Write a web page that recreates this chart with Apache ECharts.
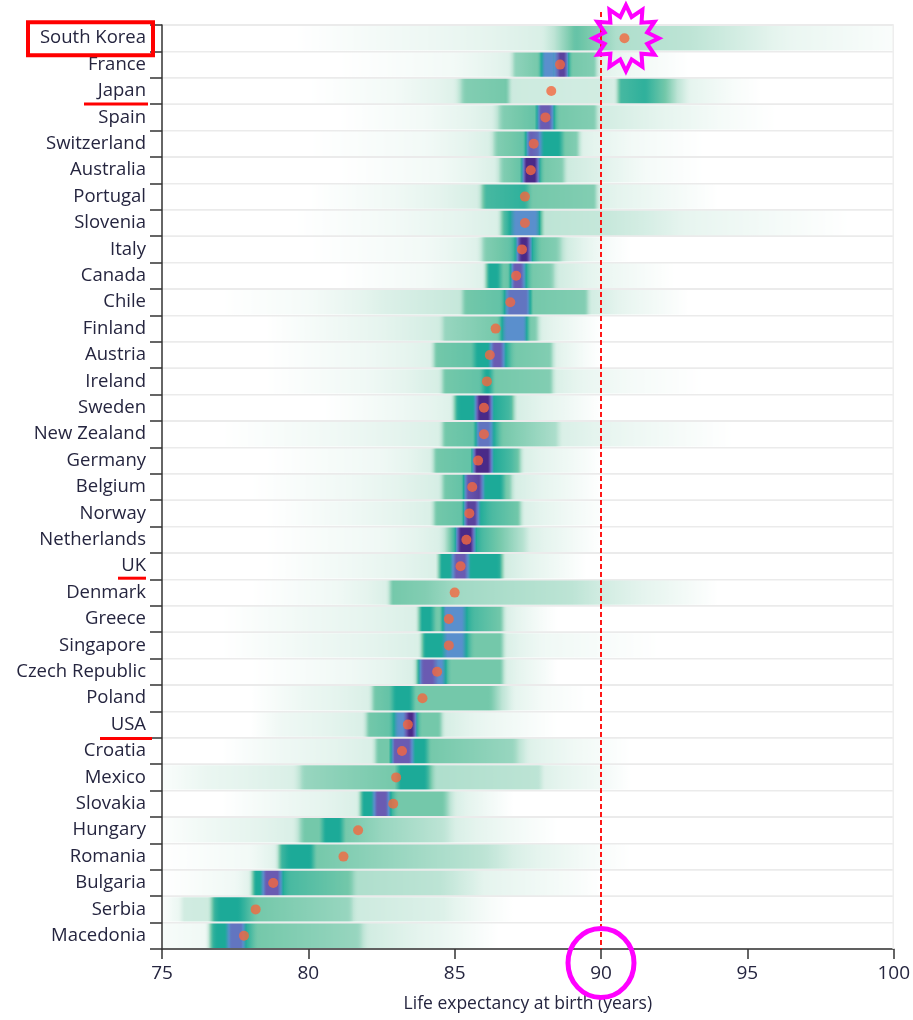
<!DOCTYPE html>
<html><head><meta charset="utf-8">
<script src="https://cdn.jsdelivr.net/npm/echarts@6/dist/echarts.min.js"></script>
<style>html,body{margin:0;padding:0;background:#fff}#c{width:913px;height:1020px}</style>
</head><body><div id="c"></div><script>
// ---------------- data ----------------
const countries = ['South Korea','France','Japan','Spain','Switzerland','Australia','Portugal','Slovenia','Italy','Canada','Chile','Finland','Austria','Ireland','Sweden','New Zealand','Germany','Belgium','Norway','Netherlands','UK','Denmark','Greece','Singapore','Czech Republic','Poland','USA','Croatia','Mexico','Slovakia','Hungary','Romania','Bulgaria','Serbia','Macedonia'];
const medians = [90.8,88.6,88.3,88.1,87.7,87.6,87.4,87.4,87.3,87.1,86.9,86.4,86.2,86.1,86.0,86.0,85.8,85.6,85.5,85.4,85.2,85.0,84.8,84.8,84.4,83.9,83.4,83.2,83.0,82.9,81.7,81.2,78.8,78.2,77.8];
// density strips: [life expectancy, density level 0..7] knots, one list per country
const strips = [
 [[79.5,0],[82,0.4],[85,0.8],[88,1.3],[88.5,2.2],[89.1,3.2],[89.8,2.8],[90.5,2.2],[93,2],[94.5,1.5],[96.5,0.8],[100,0.2]],
 [[81,0],[85,0.5],[86.9,1.2],[87.0,2.6],[87.9,3],[88.0,5],[88.4,5],[88.45,4],[88.5,6.5],[88.8,6.5],[88.85,4],[88.95,3],[89.8,2.8],[89.9,1.2],[91,0.6],[93,0]],
 [[80,0],[83,0.5],[85.0,1.2],[85.3,2.8],[86.8,3],[86.9,1.6],[89.9,1.5],[90.5,1.3],[90.6,3.5],[91.5,3.8],[92.2,3],[93,1],[94.5,0.3],[95.5,0]],
 [[81,0],[84,0.5],[86.3,1.3],[86.6,2.8],[87.8,3.2],[87.85,6],[88.3,6],[88.35,4],[88.5,3],[89.8,2.8],[89.9,1.5],[92,1],[94,0.4],[96,0]],
 [[80,0],[84,0.5],[86.2,1.3],[86.4,2.8],[87.4,3.2],[87.5,6],[87.9,5.5],[87.95,4],[88.6,4],[88.7,3],[89.2,2.8],[89.3,1.2],[91,0.5],[93.5,0]],
 [[81,0],[84.5,0.5],[86.4,1.3],[86.6,2.8],[87.3,3.2],[87.35,7],[87.8,7],[87.85,4],[88,3],[88.7,2.8],[88.8,1.6],[89.9,1.2],[91.5,0.4],[93.5,0]],
 [[80,0],[83,0.6],[85.8,1.4],[86.0,3.5],[87.4,3.8],[87.6,3],[89.8,2.8],[89.9,1.2],[92,0.6],[94,0]],
 [[79.5,0],[83,0.5],[86.5,1.3],[86.6,3.2],[86.9,4],[87.0,5],[87.8,5],[87.9,4],[88.0,2],[90,1.8],[91.5,1.4],[93,0.9],[96,0.4],[98.5,0]],
 [[80,0],[84,0.5],[85.8,1.2],[86.0,2.8],[86.9,3.2],[87.1,4],[87.2,7],[87.5,7],[87.6,4],[87.9,3],[88.5,2.8],[88.8,1.5],[90.3,0.3],[91,0]],
 [[81,0],[84,0.5],[86.0,1.2],[86.1,4],[86.5,4],[86.6,3],[86.9,3.2],[86.95,6],[87.3,6],[87.4,4],[87.6,3],[88.3,2.8],[88.5,1.5],[90,0.8],[92.5,0]],
 [[77,0],[80,0.4],[82.5,1.2],[85.2,1.8],[85.3,3],[86.6,3.2],[86.7,4],[86.8,5.5],[87.5,5.5],[87.6,3],[89.5,2.8],[89.6,1.5],[91,0.8],[93,0]],
 [[78.5,0],[81,0.6],[84.5,1.5],[84.6,2.5],[86.5,3],[86.6,4],[86.7,5],[87.4,5],[87.5,3],[87.8,2.8],[87.9,1.3],[89.5,0.3],[90,0]],
 [[78.5,0],[82,0.6],[84.2,1.2],[84.3,3],[85.6,3.2],[85.7,4],[86.2,4],[86.25,6],[86.6,6],[86.7,4],[87,3],[88.3,2.8],[88.4,1.2],[89.5,0.3],[90,0]],
 [[78.5,0],[82,0.6],[84.5,1.4],[84.6,3],[85.9,3.2],[86.0,4],[86.2,4],[86.3,3],[88.3,2.8],[88.4,1.3],[89.5,0.8],[91,0.4],[93.5,0]],
 [[80.5,0],[83,0.6],[84.9,1.2],[85.0,3.5],[85.1,4],[85.7,4],[85.75,7],[86.2,7],[86.25,4],[86.9,3.5],[87.0,3],[87.05,1.4],[88.5,0.8],[90,0]],
 [[77,0],[81,0.6],[84.5,1.3],[84.6,3],[85.7,3.2],[85.75,5.5],[86.2,5.5],[86.3,4],[86.6,3],[88.5,2.2],[88.6,1.3],[91,0.7],[94.5,0]],
 [[78.5,0],[82.5,0.6],[84.2,1.3],[84.3,3],[85.6,3.2],[85.65,7],[86.2,7],[86.25,4],[86.9,3.5],[87.2,3],[87.3,1.3],[89.5,0.3],[90,0]],
 [[78,0],[81.5,0.6],[84.5,1.4],[84.6,3],[85.3,3.2],[85.35,6],[85.9,6.5],[85.95,4],[86.6,4],[86.7,3],[86.9,2.8],[87,1.4],[89,0.5],[90,0]],
 [[78.5,0],[81.5,0.6],[84.2,1.3],[84.3,3],[85.3,3.2],[85.35,6.5],[85.75,6.5],[85.8,4],[86.2,3.5],[87.2,3],[87.3,1.3],[89,0.5],[90.3,0]],
 [[78.5,0],[82.5,0.6],[84.5,1.3],[84.8,2.8],[85.05,4],[85.1,7],[85.6,7],[85.65,4],[85.9,3.5],[86.5,3],[87.4,2],[87.5,1.3],[89,0.5],[90,0]],
 [[78.5,0],[81.5,0.6],[84.4,1.3],[84.45,4],[84.9,4],[84.95,6],[85.4,6],[85.45,4],[86.5,4],[86.6,3.5],[86.65,1.5],[88,0.8],[89.5,0]],
 [[78,0],[81,0.6],[82.7,1.3],[82.8,3],[84,2.8],[85,2.4],[89,2],[90,1.5],[92,0.8],[94,0]],
 [[77,0],[80,0.6],[83.7,1.3],[83.8,4],[84.2,4],[84.3,3],[84.55,3],[84.6,5],[85.3,5],[85.35,4],[85.6,3.5],[86.6,3],[86.7,1.3],[88,0.3],[88.5,0]],
 [[77,0],[80,0.6],[83.8,1.3],[83.9,4],[84.6,4],[84.65,5],[85.3,5],[85.35,4],[85.6,3],[86.6,3],[86.7,1.3],[88,0.6],[92,0]],
 [[78,0],[81.5,0.6],[83.6,1.3],[83.7,3],[83.85,6],[84.3,6],[84.35,5],[84.6,5],[84.65,4],[84.8,3],[86.6,3],[86.7,1.3],[88,0.4],[88.5,0]],
 [[78,0],[79.8,0.7],[82.1,1.3],[82.2,3],[82.8,3.2],[82.9,4],[83.5,4],[83.6,3],[86.2,3],[87,1],[88,0.4],[89.5,0]],
 [[78,0],[79,0.6],[81.9,1.3],[82.0,3],[82.8,3.2],[82.9,4],[83.0,5],[83.3,5],[83.35,7],[83.6,7],[83.65,4],[83.8,3],[84.5,3],[84.6,1.4],[86,0.8],[88.5,0]],
 [[77,0],[79,0.6],[82.2,1.3],[82.3,3],[82.8,3],[82.85,6],[83.5,6],[83.55,4],[84,4],[84.1,3],[87,2.5],[87.5,1.2],[89,0.6],[91,0]],
 [[75,0.2],[76.5,0.8],[79.5,1.3],[79.8,2.5],[83,3],[83.05,4],[84,4],[84.3,2.2],[87.9,2],[88,1.2],[90,0.5],[91,0]],
 [[77,0],[79,0.6],[81.7,1.3],[81.8,4],[82.2,4],[82.25,6],[82.7,6],[82.75,4],[83,3],[84.6,3],[85,1.3],[86.5,0.3],[87,0]],
 [[75,0.1],[76.5,0.6],[79.5,1.3],[79.8,3],[80.4,3],[80.5,4],[81.1,4],[81.2,3],[82.5,2.5],[84.6,2],[85,1.3],[87,0.5],[88.5,0]],
 [[75,0],[78,0.5],[78.9,1.2],[79.0,3.5],[79.3,4],[80.1,4],[80.2,3],[83,2.5],[86,2],[87,1.3],[89.5,0.4],[91,0]],
 [[75,0],[77.5,0.6],[78.0,1.2],[78.1,4],[78.4,4],[78.45,6],[79.0,6],[79.05,4],[79.3,3.5],[81.4,3],[81.6,2.2],[84.5,2],[86,1],[89,0.3],[90,0]],
 [[75,0.2],[75.6,0.8],[75.65,1.5],[76.6,1.6],[76.7,3.5],[76.9,4],[77.6,4],[78.2,3],[81.4,2.5],[81.6,1.6],[84.6,1.2],[86.2,0.3],[87,0]],
 [[75,0.3],[76.5,0.6],[76.65,3.5],[76.8,4],[77.2,4],[77.25,5.5],[77.75,5.5],[77.8,4],[78.2,3],[81.7,2.5],[82,1.5],[84.5,0.8],[86.5,0]]
];
const xMin = 75, xMax = 100, xStep = 5;
const refLine = 90;
const boxed = 'South Korea';
const underlined = ['Japan','UK','USA'];

// ---------------- helpers ----------------
const palette = ['#ffffff','#e5f4ee','#bde4d5','#74c8aa','#1caa98','#5a8fcd','#6a5bb2','#4a2a88'];
const rgb = palette.map(h => [1,3,5].map(i => parseInt(h.substr(i,2),16)));
function levelColor(l){
  l = Math.max(0, Math.min(palette.length-1, l));
  const a = Math.floor(l), b = Math.min(a+1, palette.length-1), t = l - a;
  const c = rgb[a].map((v,k) => Math.round(v + (rgb[b][k]-v)*t));
  return 'rgb(' + c.join(',') + ')';
}
function levelAt(kn, v){
  if (v <= kn[0][0]) return kn[0][1];
  for (let i = 1; i < kn.length; i++) {
    if (v <= kn[i][0]) {
      const t = (v - kn[i-1][0]) / (kn[i][0] - kn[i-1][0]);
      return kn[i-1][1] + (kn[i][1] - kn[i-1][1]) * t;
    }
  }
  return kn[kn.length-1][1];
}
function smoothLevel(kn, v){
  let s = 0, n = 0;
  for (let d = -0.08; d <= 0.0801; d += 0.04) { s += levelAt(kn, v + d); n++; }
  return s / n;
}
const gradStops = strips.map(kn => {
  const s = [];
  for (let v = xMin; v <= xMax + 1e-9; v += 0.04) {
    s.push({offset: Math.min(1,(v - xMin)/(xMax - xMin)), color: levelColor(smoothLevel(kn, v))});
  }
  return s;
});

const FONT = '"Open Sans", "Noto Sans", sans-serif';
const TXT = '#25253f';

const chart = echarts.init(document.getElementById('c'), null, {renderer:'canvas'});
chart.setOption({
  animation: false,
  backgroundColor: '#ffffff',
  textStyle: {fontFamily: FONT},
  grid: {left: 162, right: 18, top: 25, bottom: 71},
  xAxis: {
    type: 'value', min: xMin, max: xMax, interval: xStep,
    name: 'Life expectancy at birth (years)', nameLocation: 'middle', nameGap: 46,
    nameTextStyle: {fontSize: 17.5, color: TXT, fontFamily: FONT},
    axisLine: {show: true, onZero: false, lineStyle: {color: '#333', width: 1.5}},
    axisTick: {show: true, length: 10, lineStyle: {color: '#333', width: 1.5}},
    axisLabel: {fontSize: 19, color: TXT, margin: 15, fontFamily: FONT},
    splitLine: {show: false}
  },
  yAxis: {
    type: 'category', inverse: true, data: countries,
    axisLine: {show: true, lineStyle: {color: '#333', width: 1.5}},
    axisTick: {show: true, length: 12, lineStyle: {color: '#333', width: 1.5}},
    axisLabel: {fontSize: 18.5, color: TXT, margin: 16, fontFamily: FONT},
    splitLine: {show: true, lineStyle: {color: '#ebebeb', width: 2}}
  },
  series: [
    {
      type: 'custom', name: 'density',
      data: countries.map((c, i) => [xMin, i]),
      encode: {x: 0, y: 1},
      renderItem: function(params, api){
        const idx = api.value(1);
        const p0 = api.coord([xMin, idx]);
        const p1 = api.coord([xMax, idx]);
        const h = api.size([0, 1])[1];
        return {
          type: 'rect',
          shape: {x: p0[0] + 1, y: p0[1] - h/2 + 1, width: p1[0] - p0[0] - 1, height: h - 2},
          style: {fill: new echarts.graphic.LinearGradient(0, 0, 1, 0, gradStops[idx])}
        };
      },
      z: 1
    },
    {
      type: 'scatter', name: 'median',
      data: medians.map((m, i) => [m, countries[i]]),
      symbol: 'circle', symbolSize: 10,
      itemStyle: {color: '#f4683f'},
      z: 5
    },
    {
      type: 'custom', name: 'reference',
      data: [[refLine, 0]],
      encode: {x: 0, y: 1},
      renderItem: function(params, api){
        const n = countries.length;
        const top = api.coord([refLine, 0]);
        const bot = api.coord([refLine, n - 1]);
        const h = api.size([0, 1])[1];
        const x = Math.round(top[0]);
        const yTop = top[1] - h/2 - 13;
        const yBot = bot[1] + h/2;
        const right = api.coord([xMax, 0])[0];
        // star around the boxed country's median
        const bi = countries.indexOf(boxed);
        const sp = api.coord([medians[bi], bi]);
        const pts = [];
        for (let k = 0; k < 24; k++) {
          const r = k % 2 === 0 ? 33 : 22;
          const a = -Math.PI/2 + k * Math.PI / 12;
          pts.push([sp[0] + 1.5 + r*Math.cos(a), sp[1] + r*Math.sin(a)]);
        }
        const children = [
          {type: 'line', shape: {x1: right - 0.5, y1: top[1] - h/2, x2: right - 0.5, y2: yBot},
           style: {stroke: '#eeeeee', lineWidth: 1.5}},
          {type: 'line', shape: {x1: x, y1: yTop, x2: x, y2: yBot},
           style: {stroke: '#ff0000', lineWidth: 1.8, lineDash: [5, 3]}},
          {type: 'polygon', shape: {points: pts},
           style: {fill: 'none', stroke: '#ff00ff', lineWidth: 4, lineJoin: 'miter'}},
          {type: 'ellipse', shape: {cx: x, cy: yBot + 14, rx: 33, ry: 34.5},
           style: {fill: 'none', stroke: '#ff00ff', lineWidth: 5}}
        ];
        // box around label
        const bp = api.coord([xMin, bi]);
        children.push({type: 'rect', shape: {x: bp[0] - 134, y: bp[1] - 16, width: 125, height: 33},
          style: {fill: 'none', stroke: '#ff0000', lineWidth: 4}});
        // underlines
        const ul = {'Japan': [-78, -14, 13], 'UK': [-44, -16, 12], 'USA': [-62, -10, 14]};
        underlined.forEach(name => {
          const i = countries.indexOf(name);
          const p = api.coord([xMin, i]);
          const o = ul[name];
          children.push({type: 'line', shape: {x1: p[0] + o[0], y1: p[1] + o[2], x2: p[0] + o[1], y2: p[1] + o[2]},
            style: {stroke: '#ff0000', lineWidth: 3}});
        });
        return {type: 'group', children: children};
      },
      z: 10
    }
  ]
});
</script></body></html>
